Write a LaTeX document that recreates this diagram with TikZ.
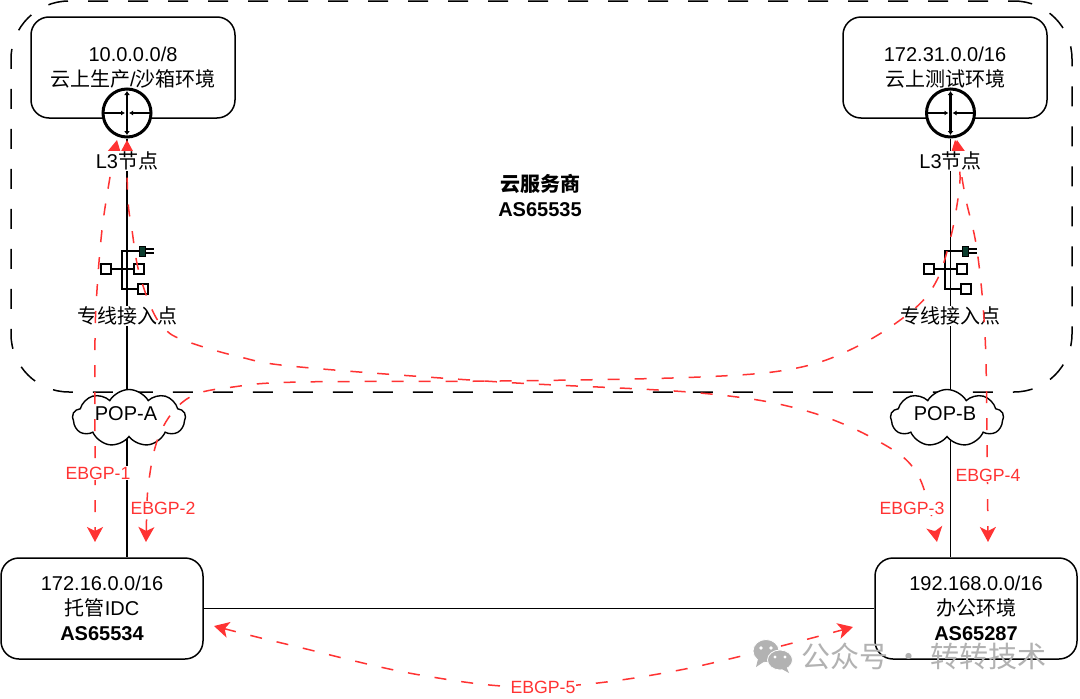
\documentclass[tikz,border=0pt]{standalone}
\usepackage{fontspec}
\setmainfont{Liberation Sans}
\newfontfamily\cjk{Noto Sans CJK SC}
\usetikzlibrary{arrows.meta,shapes.symbols,backgrounds}
\definecolor{ebgpred}{HTML}{FF3333}
\definecolor{plugcol}{HTML}{0B3D2E}
\tikzset{
  netbox/.style={draw, line width=1.5pt, fill=white, rounded corners=18pt, minimum width=204pt, minimum height=101pt, align=center, inner sep=0pt, font=\fontsize{20}{25}\selectfont},
  region/.style={draw, line width=1.5pt, rounded corners=58pt, minimum width=1061pt, minimum height=391pt, inner sep=0pt, dash pattern=on 20pt off 20pt, dash phase=14pt},
  router/.style={draw, circle, line width=3pt, fill=white, minimum size=48pt, inner sep=0pt},
  port/.style={draw, line width=1.3pt, fill=white, minimum size=10pt, inner sep=0pt},
  pop/.style={draw, cloud, cloud puffs=9, cloud puff arc=120, aspect=2, line width=1.4pt, fill=white, minimum width=113pt, minimum height=57pt, inner sep=0pt, font=\fontsize{20}{24}\selectfont},
  caption/.style={fill=white, inner sep=1pt, font=\fontsize{20}{24}\selectfont},
  ebgp/.style={draw=ebgpred, line width=1.5pt, dash pattern=on 12pt off 15pt, {Stealth[length=15pt,width=16pt,inset=4pt,fill=ebgpred]}-{Stealth[length=15pt,width=16pt,inset=4pt,fill=ebgpred]}},
  ebgplabel/.style={fill=white, inner sep=1pt, text=ebgpred, font=\fontsize{17.7}{20}\selectfont},
  wmbubble/.style={fill=black!30, draw=white, line width=.8pt},
}
\begin{document}
\begin{tikzpicture}[x=1pt,y=-1pt]
  \useasboundingbox (0,0) rectangle (1080,699);
  % Cloud provider region
  \node[region] (cloudRegion) at (541.5,196.5) {};
  \node[align=center, font=\fontsize{20}{25}\selectfont\bfseries] (provider) at (540,195) {{\cjk 云服务商}\\AS65535};
  % Networks
  \node[netbox] (prodBox) at (133,67.5) {10.0.0.0/8\\{\cjk 云上生产}/{\cjk 沙箱环境}};
  \node[netbox] (testBox) at (945,67.5) {172.31.0.0/16\\{\cjk 云上测试环境}};
  \node[netbox, minimum width=202pt] (idcBox) at (102,608.5) {172.16.0.0/16\\{\cjk 托管}IDC\\\textbf{AS65534}};
  \node[netbox, minimum width=202pt] (officeBox) at (976,608.5) {192.168.0.0/16\\{\cjk 办公环境}\\\textbf{AS65287}};
  % L3 nodes
  \foreach \side/\x in {A/127,B/950.5}{
    \node[router] (router\side) at (\x,113) {};
    \draw[line width=2.5pt, {Latex[length=4pt,width=6pt]}-{Latex[length=4pt,width=6pt]}] (\x,91) -- (\x,135);
    \draw[line width=1.4pt, -{Latex[length=4pt,width=5pt]}] (\x-23,113) -- (\x-2,113);
    \draw[line width=1.4pt, -{Latex[length=4pt,width=5pt]}] (\x+23,113) -- (\x+2,113);
  }
  % Access points
  \foreach \side/\x in {A/122,B/945}{
    \node[port] (portL\side) at (\x-16,269) {};
    \node[port] (portR\side) at (\x+17,269) {};
    \node[port] (portD\side) at (\x+21,289) {};
    \node[draw, fill=plugcol, line width=1pt, minimum width=6pt, minimum height=10pt, inner sep=0pt] (plug\side) at (\x+20,251) {};
    \coordinate (barTop\side) at (\x,251);
    \coordinate (barEnd\side) at (\x,289);
    \draw[line width=2.8pt] (plug\side) -- (barTop\side) -- (barEnd\side) -- (portD\side);
    \draw[line width=1.8pt] (portL\side) -- (portR\side);
    \draw[line width=1.3pt] (plug\side.east) ++(0,-2) -- ++(8,0);
    \draw[line width=1.3pt] (plug\side.east) ++(0,2) -- ++(8,0);
    \node[caption, fill=none] (access\side) at (\x+5,316) {{\cjk 专线接入点}};
  }
  % POPs
  \node[pop] (popA) at (129,418) {};
  \node[pop] (popB) at (947,418) {};
  % Physical links
  \begin{scope}[on background layer]
    \fill[white] (0,0) rectangle (1080,699);
    \draw[line width=1.5pt] (routerA) -- (routerA |- idcBox.north);
    \draw[line width=1.5pt] (routerB) -- (routerB |- officeBox.north);
    \draw[line width=1.5pt] (idcBox) -- (officeBox);
    \fill[white] (accessA.south west) rectangle (accessA.north east);
    \fill[white] (accessB.south west) rectangle (accessB.north east);
  \end{scope}
  % BGP sessions
  \coordinate (idcTipA) at (95,542);
  \coordinate (idcTipB) at (146,542);
  \coordinate (officeTipA) at (937,542);
  \coordinate (officeTipB) at (988,542);
  \coordinate (prodTipA) at (117,140);
  \coordinate (prodTipB) at (127,140);
  \coordinate (testTipA) at (955,140);
  \coordinate (testTipB) at (957,140);
  \coordinate (idcTipC) at (214,626);
  \coordinate (officeTipC) at (853,627);
  \draw[ebgp] plot[smooth, tension=.6] coordinates {(prodTipA) (110,177) (102,230) (97,290) (95,340) (95,440) (idcTipA)};
  \draw[ebgp] plot[smooth, tension=.6] coordinates {(idcTipB) (150,473) (163,427) (190,397) (233,387) (300,382) (500,381) (700,377) (797,368) (860,345) (913,310) (937,280) (950,240) (957,205) (960,175) (testTipA)};
  \draw[ebgp] plot[smooth, tension=.6] coordinates {(prodTipB) (128,200) (132,230) (138,268) (150,305) (163,327) (183,340) (240,357) (300,367) (500,382) (700,393) (803,410) (878,441) (918,475) (officeTipA)};
  \draw[ebgp] plot[smooth, tension=.6] coordinates {(testTipB) (965,195) (977,250) (985,335) (987,440) (officeTipB)};
  \draw[ebgp] plot[smooth, tension=.6] coordinates {(idcTipC) (290,645) (420,675) (540,687) (680,670) (officeTipC)};
  % Labels over the sessions
  \node[caption] (l3A) at (127,161) {L3{\cjk 节点}};
  \node[caption] (l3B) at (950.5,161) {L3{\cjk 节点}};
  \node[ebgplabel] (ebgpOne) at (98,473) {EBGP-1};
  \node[ebgplabel] (ebgpTwo) at (163,508) {EBGP-2};
  \node[ebgplabel] (ebgpThree) at (912,508) {EBGP-3};
  \node[ebgplabel] (ebgpFour) at (988,475) {EBGP-4};
  \node[ebgplabel] (ebgpFive) at (543,687) {EBGP-5};
  \node[font=\fontsize{20}{24}\selectfont] (popAText) at (126,414) {POP-A};
  \node[font=\fontsize{20}{24}\selectfont] (popBText) at (945,414) {POP-B};
  % Watermark
  \fill[wmbubble] (766,651) ellipse (13 and 11.5);
  \fill[black!30] (758,659) -- (756,667) -- (765,661) -- cycle;
  \fill[white] (761,648) circle (1.8);
  \fill[white] (771,648) circle (1.8);
  \draw[wmbubble] (780,660) ellipse (12.5 and 10);
  \fill[black!30] (786,666) -- (789,673) -- (780,668) -- cycle;
  \fill[white] (775,657) circle (1.6);
  \fill[white] (785,657) circle (1.6);
  \node[text=black!30, font=\fontsize{29}{32}\cjk] (watermark) at (923.5,656) {公众号 · 转转技术};
\end{tikzpicture}
\end{document}
